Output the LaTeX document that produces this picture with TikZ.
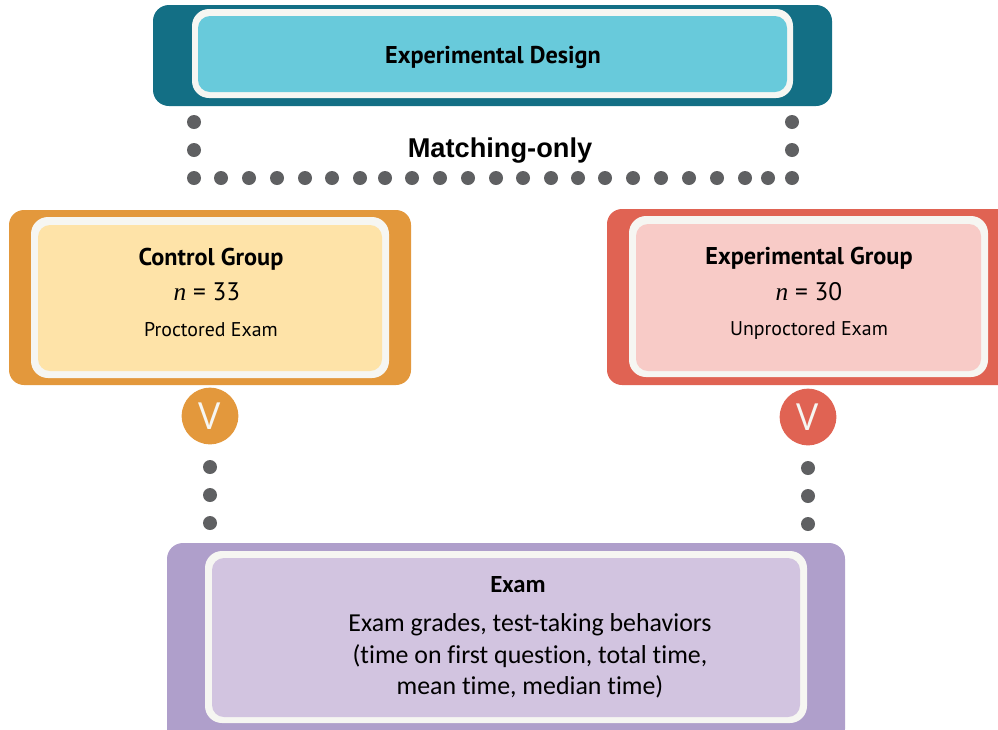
\documentclass[tikz,border=0pt]{standalone}
\usepackage{fontspec}
\setmainfont{Open Sans}
\newfontfamily\headfont{PT Sans}
\newfontfamily\bodyfont[Ligatures=NoCommon]{Carlito}
\newfontfamily\arialfont{Liberation Sans}
\newfontfamily\serfont{Liberation Serif}
\definecolor{tealD}{HTML}{136F85}
\definecolor{tealL}{HTML}{68CADB}
\definecolor{orangeD}{HTML}{E3983C}
\definecolor{orangeL}{HTML}{FEE3A8}
\definecolor{redD}{HTML}{E06353}
\definecolor{redL}{HTML}{F8CBC7}
\definecolor{purpD}{HTML}{AF9FCB}
\definecolor{purpL}{HTML}{D2C4E0}
\definecolor{ringW}{HTML}{F6F6F2}
\definecolor{dotG}{HTML}{5F6062}
\tikzset{
  panel/.style={inner sep=0pt,outer sep=0pt,rounded corners=#1},
  dotmark/.style={circle,fill=dotG,inner sep=0pt,minimum size=10.5pt},
  vbadge/.style={circle,inner sep=0pt,minimum size=42.5pt,text=ringW,font=\fontsize{28}{28}\selectfont},
  headtext/.style={inner sep=0pt,font=\headfont\bfseries\fontsize{18.2}{20}\selectfont},
  ntext/.style={inner sep=0pt,font=\headfont\fontsize{19}{20}\selectfont},
  subtext/.style={inner sep=0pt,font=\headfont\fontsize{14.9}{16}\selectfont},
  bodytext/.style={inner sep=0pt,font=\bodyfont\fontsize{19.4}{22}\selectfont},
}
% name, x1, y1, x2, y2, fill, radius (pixels of the reference)
\newcommand{\pnl}[7]{%
  \pgfmathsetmacro{\pcx}{(#2+#4)/2}\pgfmathsetmacro{\pcy}{(#3+#5)/2}%
  \pgfmathsetmacro{\pw}{(#4-#2)*0.75}\pgfmathsetmacro{\ph}{(#5-#3)*0.75}%
  \node[panel=#7*0.75pt,fill=#6,minimum width=\pw pt,minimum height=\ph pt] (#1) at (\pcx,\pcy) {};%
}
\begin{document}
\begin{tikzpicture}[x=0.75pt,y=-0.75pt]
\useasboundingbox (0,0) rectangle (998,729);
\clip (0,0) rectangle (998,729);
% top panel
\pnl{designO}{153}{5}{832}{106}{tealD}{16}
\pnl{designW}{192}{9}{793}{98}{ringW}{17}
\pnl{designI}{198}{16}{787}{92}{tealL}{12}
\node[headtext] (designT) at (493,57) {Experimental Design};
% control
\pnl{controlO}{9}{210}{411}{385}{orangeD}{15}
\pnl{controlW}{31}{217}{389}{378}{ringW}{17}
\pnl{controlI}{38}{225}{382}{371}{orangeL}{12}
\node[headtext] (controlT) at (211,259) {Control Group};
\node[ntext] (controlN) at (207,292) {{\serfont\itshape n} = 33};
\node[subtext] (controlS) at (211,330) {Proctored Exam};
% experimental
\pnl{expO}{607}{209}{1030}{385}{redD}{15}
\pnl{expW}{629}{216}{988}{377}{ringW}{17}
\pnl{expI}{636}{224}{981}{371}{redL}{12}
\node[headtext] (expT) at (809,258) {Experimental Group};
\node[ntext] (expN) at (809,292) {{\serfont\itshape n} = 30};
\node[subtext] (expS) at (809,331) {Unproctored Exam};
% exam
\pnl{examO}{167}{543}{845}{745}{purpD}{16}
\pnl{examW}{205}{551}{807}{723}{ringW}{17}
\pnl{examI}{212}{558}{800}{717}{purpL}{12}
\node[inner sep=0pt,font=\bodyfont\bfseries\fontsize{18.5}{20}\selectfont] (examT) at (518,585) {Exam};
\node[bodytext] (examA) at (530,625) {Exam grades, test-taking behaviors};
\node[bodytext] (examB) at (530,656) {(time on first question, total time,};
\node[bodytext] (examC) at (530,687) {mean time, median time)};
% matching
\node[inner sep=0pt,font=\arialfont\bfseries\fontsize{20.4}{24}\selectfont] (matchT) at (500,151) {Matching-only};
\foreach \yy [count=\i] in {122,150}{
  \node[dotmark] (dl\i) at (194,\yy) {};
  \node[dotmark] (dr\i) at (792,\yy) {};
}
\foreach \xx [count=\i] in {194,221,249,277,305,332,360,385,412,440,468,496,523,551,578,605,633,661,689,717,745,768,792}{
  \node[dotmark] (dm\i) at (\xx,178) {};
}
% badges
\node[vbadge,fill=orangeD] (vc) at (210,416) {V};
\node[vbadge,fill=redD] (ve) at (808,417) {V};
\foreach \yy [count=\i] in {467,495,523}{
  \node[dotmark] (dc\i) at (210,\yy) {};
}
\foreach \yy [count=\i] in {468,496,524}{
  \node[dotmark] (de\i) at (808,\yy) {};
}
\end{tikzpicture}
\end{document}
